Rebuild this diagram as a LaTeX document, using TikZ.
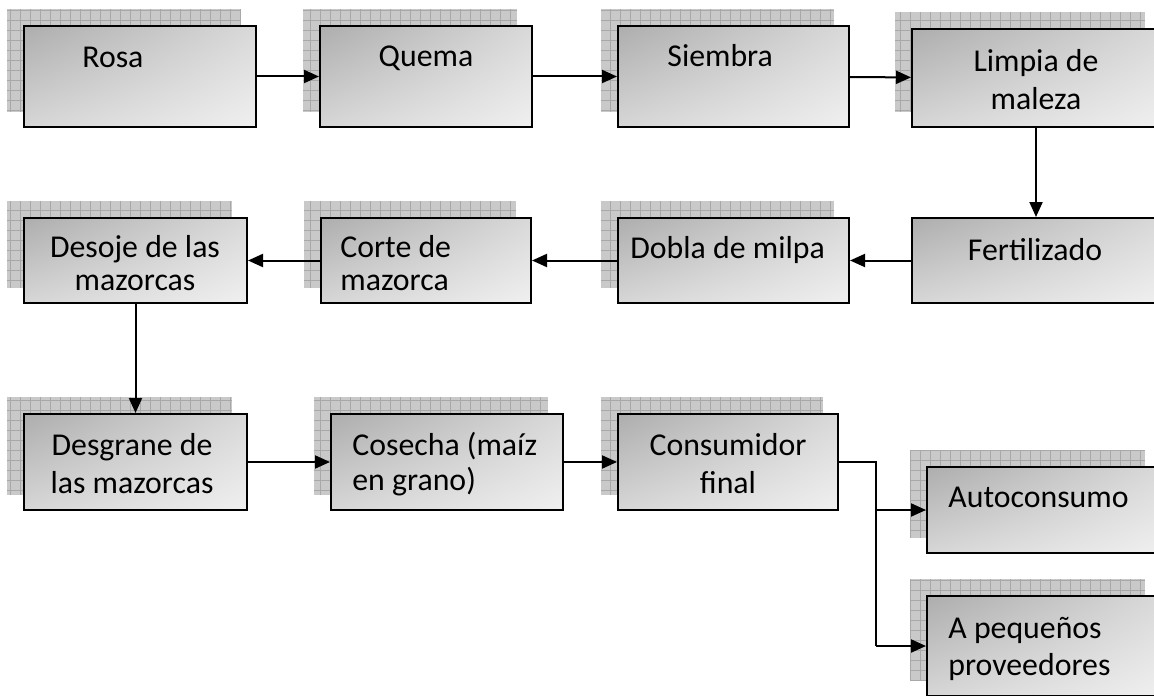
\documentclass[tikz,border=0pt]{standalone}
\usepackage{fontspec}
\setmainfont{Carlito}
\usetikzlibrary{arrows.meta,backgrounds,fit,shadings}

\tikzset{
	proc/.style={draw, line width=1pt, inner sep=0pt, shade,
		upper left=black!32, upper right=black!15, lower left=black!16, lower right=black!6},
	lbl/.style={inner sep=0pt, font=\fontsize{15.9}{19}\selectfont},
	link/.style={line width=1pt, -{Triangle[length=7.5pt,width=6.5pt]}},
	grille/.style={fill=black!21},
	grillelines/.style={draw=black!34, line width=0.35pt},
}

\begin{document}
\begin{tikzpicture}[x=0.5pt, y=-0.5pt]
		%%%%% START %%%%%
		\useasboundingbox (0,0) rectangle (1154,695);
		\clip (0,0) rectangle (1154,695);
		
		% first row
		\node[proc, fit={(24,26) (256,127)}] (rosa) {};
		\node[proc, fit={(320,26) (532,127)}] (quema) {};
		\node[proc, fit={(618,26) (849,127)}] (siembra) {};
		\node[proc, fit={(912,29) (1160,127)}] (limpia) {};
		
		% second row
		\node[proc, fit={(912,218) (1160,303)}] (fert) {};
		\node[proc, fit={(618,218) (849,303)}] (dobla) {};
		\node[proc, fit={(321,218) (531,303)}] (corte) {};
		\node[proc, fit={(24,218) (247,303)}] (desoje) {};
		
		% third row
		\node[proc, fit={(24,414) (247,510)}] (desgrane) {};
		\node[proc, fit={(331,414) (563,510)}] (cosecha) {};
		\node[proc, fit={(618,414) (838,510)}] (cons) {};
		\node[proc, fit={(927,467) (1160,553)}] (auto) {};
		\node[proc, fit={(927,596) (1160,696)}] (peq) {};
		
		% checkered shadows (none behind Fertilizado)
		\begin{scope}[on background layer]
			\foreach \b in {rosa,quema,siembra,limpia,dobla,corte,desoje,desgrane,cosecha,cons,auto,peq}{
				\fill[grille] ([shift={(-16,-16)}]\b.south west) rectangle ([shift={(-16,-16)}]\b.north east);
				\draw[grillelines, step=5pt] ([shift={(-16,-16)}]\b.south west) grid ([shift={(-16,-16)}]\b.north east);
			}
		\end{scope}
		
		% texts (multi-line: base = last line)
		\node[lbl, anchor=base west] (rosa-t) at (82,68) {Rosa};
		\node[lbl, anchor=base] (quema-t) at (426,67) {Quema};
		\node[lbl, anchor=base west] (siembra-t) at (667,67) {Siembra};
		\node[lbl, anchor=base, align=center] (limpia-t) at (1036,110) {Limpia de\\maleza};
		\node[lbl, anchor=base] (fert-t) at (1035,260) {Fertilizado};
		\node[lbl, anchor=base west] (dobla-t) at (630,258) {Dobla de milpa};
		\node[lbl, anchor=base west, align=left, font=\fontsize{15.9}{16.5}\selectfont] (corte-t) at (340,290) {Corte de\\mazorca};
		\node[lbl, anchor=base, align=center, font=\fontsize{15.9}{16.5}\selectfont] (desoje-t) at (135,290) {Desoje de las\\mazorcas};
		\node[lbl, anchor=base, align=center] (desgrane-t) at (132,493) {Desgrane de\\las mazorcas};
		\node[lbl, anchor=base west, align=left, font=\fontsize{15.9}{17.5}\selectfont] (cosecha-t) at (352,490) {Cosecha (maíz\\en grano)};
		\node[lbl, anchor=base, align=center] (cons-t) at (728,493) {Consumidor\\final};
		\node[lbl, anchor=base west] (auto-t) at (948,507) {Autoconsumo};
		\node[lbl, anchor=base west, align=left, font=\fontsize{15.9}{18.5}\selectfont] (peq-t) at (948,675) {A pequeños\\proveedores};
		
		% connectors
		\draw[link] (rosa) -- (quema);
		\draw[link] (quema) -- (siembra);
		\draw[link] (siembra) -- (limpia);
		\draw[link] (limpia) -- (fert);
		\draw[link] (fert) -- (dobla);
		\draw[link] (dobla) -- (corte);
		\draw[link] (corte) -- (desoje);
		\draw[link] (desoje) -- (desgrane);
		\draw[link] (desgrane) -- (cosecha);
		\draw[link] (cosecha) -- (cons);
		\draw[line width=1pt] (cons.east) -- ++(37,0) coordinate (fork) -- (fork |- peq.west);
		\draw[link] (fork |- auto.west) -- (auto.west);
		\draw[link] (fork |- peq.west) -- (peq.west);
		
		%%%%% END %%%%%
	\end{tikzpicture}
\end{document}
